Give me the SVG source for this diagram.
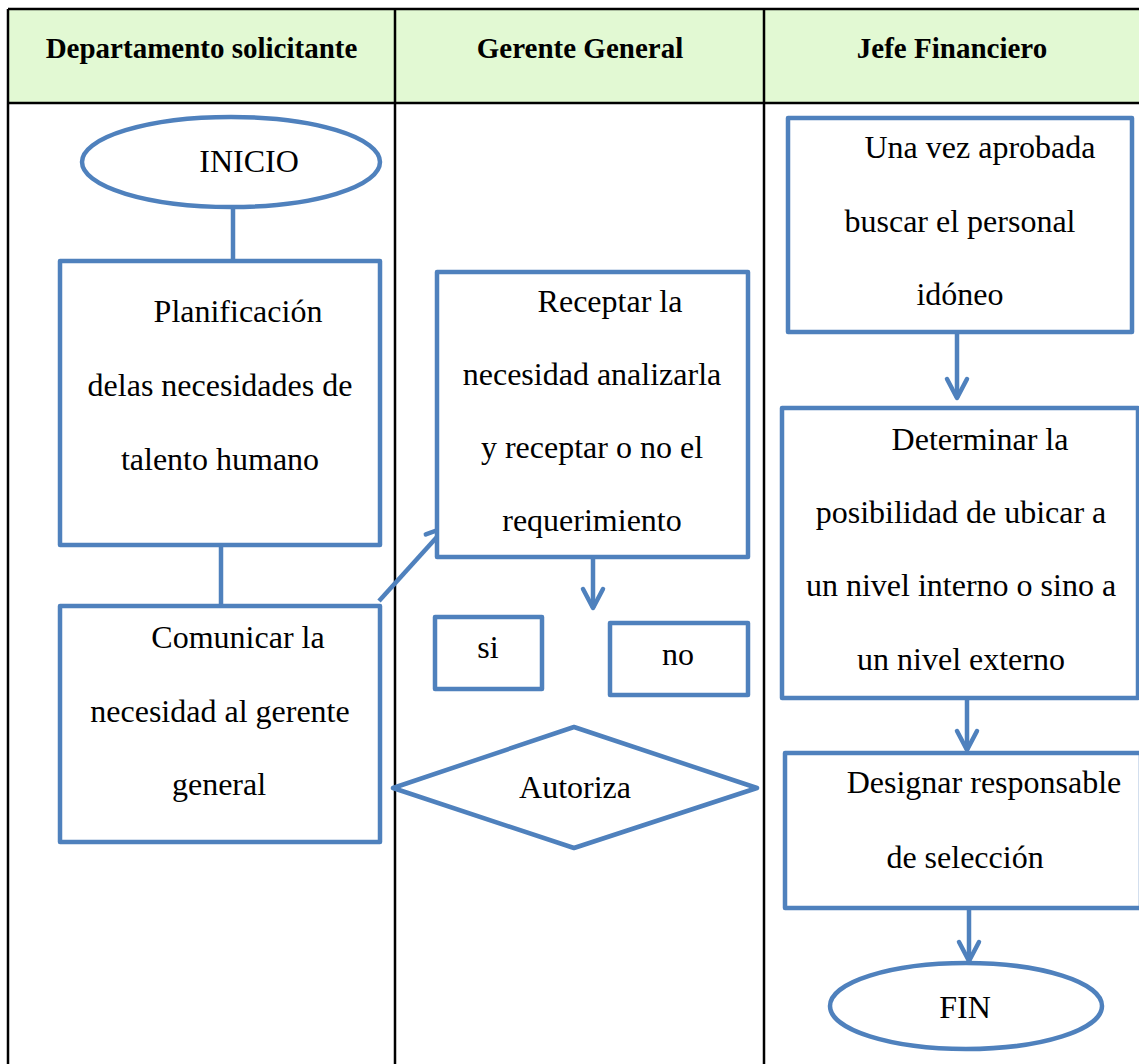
<svg xmlns="http://www.w3.org/2000/svg" width="1139" height="1064" viewBox="0 0 1139 1064">
  <defs>
    <style>
      .grid { stroke: #000; stroke-width: 2.5; fill: none; }
      .head { fill: #E2F9D3; }
      .hdr { font-family: "Liberation Serif", "Times New Roman", serif; font-weight: bold; font-size: 29px; fill: #000; text-anchor: middle; }
      .shape { fill: #fff; stroke: #4F81BD; stroke-width: 4.5; stroke-linejoin: round; }
      .conn { fill: none; stroke: #4F81BD; stroke-width: 4.5; }
      .txt { font-family: "Liberation Serif", "Times New Roman", serif; font-size: 32px; fill: #000; text-anchor: middle; }
    </style>
    <marker id="chev" viewBox="-26 -16 30 32" refX="0" refY="0" markerWidth="30" markerHeight="32" markerUnits="userSpaceOnUse" orient="auto">
      <path d="M-19,-10 L0,0 L-19,10" fill="none" stroke="#4F81BD" stroke-width="4.5" stroke-linecap="round" stroke-linejoin="round"/>
    </marker>
  </defs>

  <rect width="1139" height="1064" fill="#fff"/>

  <!-- swimlane table -->
  <g id="table">
    <rect class="head" x="8" y="9" width="1132" height="94"/>
    <line class="grid" x1="8" y1="9" x2="1139" y2="9"/>
    <line class="grid" x1="8" y1="103" x2="1139" y2="103"/>
    <line class="grid" x1="8" y1="9" x2="8" y2="1064"/>
    <line class="grid" x1="395" y1="9" x2="395" y2="1064"/>
    <line class="grid" x1="764" y1="9" x2="764" y2="1064"/>
    <text class="hdr" x="201.5" y="58">Departamento solicitante</text>
    <text class="hdr" x="580" y="58">Gerente General</text>
    <text class="hdr" x="952" y="58">Jefe Financiero</text>
  </g>

  <!-- connectors -->
  <g id="connectors">
    <line class="conn" x1="233" y1="207" x2="233" y2="261"/>
    <line class="conn" x1="221" y1="545" x2="221" y2="606"/>
    <line class="conn" x1="379" y1="601" x2="446" y2="527" marker-end="url(#chev)"/>
    <line class="conn" x1="593" y1="559" x2="593" y2="608" marker-end="url(#chev)"/>
    <line class="conn" x1="957" y1="334" x2="957" y2="398" marker-end="url(#chev)"/>
    <line class="conn" x1="967" y1="700" x2="967" y2="750" marker-end="url(#chev)"/>
    <line class="conn" x1="969" y1="910" x2="969" y2="961" marker-end="url(#chev)"/>
  </g>

  <g id="inicio">
    <ellipse class="shape" cx="231" cy="162" rx="149" ry="45"/>
    <text class="txt" x="249" y="172">INICIO</text>
  </g>

  <g id="planificacion">
    <rect class="shape" x="60" y="261" width="320" height="284"/>
    <text class="txt" x="238" y="322">Planificación</text>
    <text class="txt" x="220" y="396">delas necesidades de</text>
    <text class="txt" x="220" y="470">talento humano</text>
  </g>

  <g id="comunicar">
    <rect class="shape" x="60" y="606" width="320" height="236"/>
    <text class="txt" x="238" y="648">Comunicar la</text>
    <text class="txt" x="220" y="722">necesidad al gerente</text>
    <text class="txt" x="219" y="795">general</text>
  </g>

  <g id="receptar">
    <rect class="shape" x="437" y="272" width="311" height="285"/>
    <text class="txt" x="610" y="312">Receptar la</text>
    <text class="txt" x="592" y="385">necesidad analizarla</text>
    <text class="txt" x="592" y="458">y receptar o no el</text>
    <text class="txt" x="592" y="531">requerimiento</text>
  </g>

  <g id="si">
    <rect class="shape" x="435" y="617" width="107" height="72"/>
    <text class="txt" x="488" y="658">si</text>
  </g>

  <g id="no">
    <rect class="shape" x="610" y="623" width="138" height="72"/>
    <text class="txt" x="678" y="665">no</text>
  </g>

  <g id="autoriza">
    <polygon class="shape" points="393,788 574,727 757,788 574,848"/>
    <text class="txt" x="575" y="798">Autoriza</text>
  </g>

  <g id="buscar">
    <rect class="shape" x="788" y="118" width="344" height="214"/>
    <text class="txt" x="980" y="158">Una vez aprobada</text>
    <text class="txt" x="960" y="232">buscar el personal</text>
    <text class="txt" x="960" y="305">idóneo</text>
  </g>

  <g id="determinar">
    <rect class="shape" x="782" y="408" width="356" height="290"/>
    <text class="txt" x="980" y="450">Determinar la</text>
    <text class="txt" x="961" y="523">posibilidad de ubicar a</text>
    <text class="txt" x="961" y="596">un nivel interno o sino a</text>
    <text class="txt" x="961" y="670">un nivel externo</text>
  </g>

  <g id="designar">
    <rect class="shape" x="785" y="753" width="356" height="155"/>
    <text class="txt" x="984" y="793">Designar responsable</text>
    <text class="txt" x="965" y="868">de selección</text>
  </g>

  <g id="fin">
    <ellipse class="shape" cx="966" cy="1006" rx="136" ry="43"/>
    <text class="txt" x="965" y="1018">FIN</text>
  </g>
</svg>
